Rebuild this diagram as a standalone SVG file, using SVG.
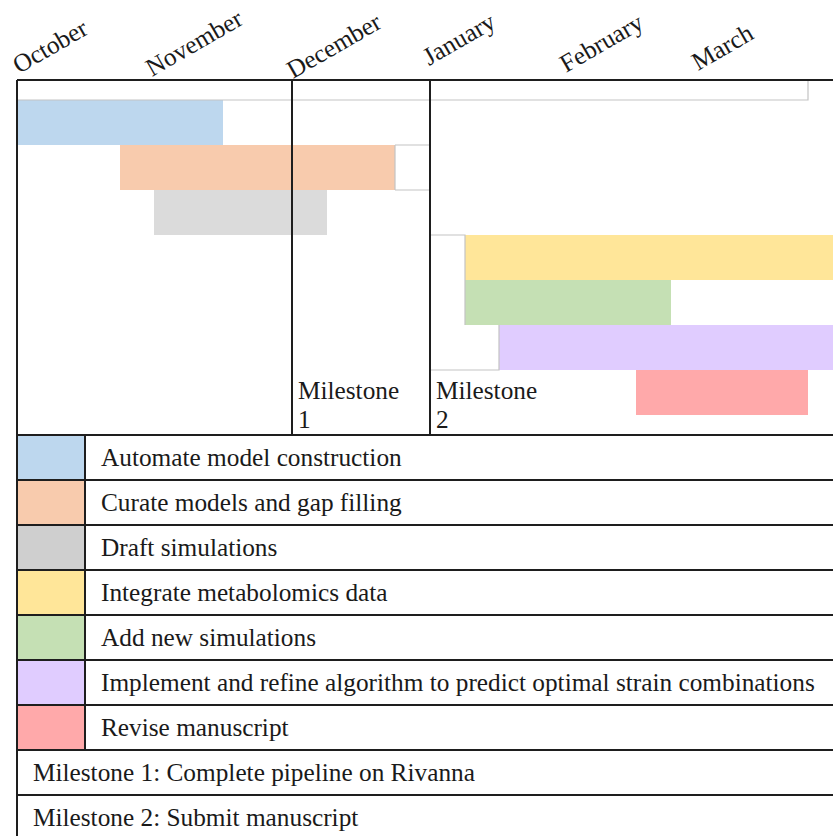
<svg xmlns="http://www.w3.org/2000/svg" width="833" height="836" viewBox="0 0 833 836">
<style>
text{font-family:"Liberation Serif","Times New Roman",serif;font-size:25.3px;fill:#1a1a1a}
.thin{stroke:#c4c4c4;stroke-width:1.2;fill:none}
.grid{stroke:#1e1e1e;stroke-width:2;fill:none}
.blue{fill:#bdd7ee}.orange{fill:#f8cbad}.gray{fill:#dbdbdb}.grayL{fill:#cfcfcf}
.yellow{fill:#ffe699}.green{fill:#c5e0b4}.purple{fill:#e0ccff}.red{fill:#ffa9aa}
</style>
<rect width="833" height="836" fill="#fff"/>
<g id="months">
<text transform="translate(19,74) rotate(-30)">October</text>
<text transform="translate(152,77) rotate(-30)">November</text>
<text transform="translate(293,79) rotate(-30)">December</text>
<text transform="translate(429,66) rotate(-30)">January</text>
<text transform="translate(566,73) rotate(-30)">February</text>
<text transform="translate(698,71) rotate(-30)">March</text>
</g>
<g id="bars">
<rect class="blue" x="17" y="100" width="206" height="45"/>
<rect class="orange" x="120" y="145" width="275" height="45"/>
<rect class="gray" x="154" y="190" width="173" height="45"/>
<rect class="yellow" x="465" y="235" width="368" height="45"/>
<rect class="green" x="465" y="280" width="206" height="45"/>
<rect class="purple" x="499" y="325" width="334" height="45"/>
<rect class="red" x="636" y="370" width="172" height="45"/>
</g>
<g id="thin-lines">
<path class="thin" d="M17 100H808V80"/>
<path class="thin" d="M395 145H430M395 190H430M395 145V190"/>
<path class="thin" d="M430 235H465V325M430 370H499V325"/>
</g>
<g id="milestone-marks">
<text x="298" y="399">Milestone</text>
<text x="298" y="428">1</text>
<text x="436" y="399">Milestone</text>
<text x="436" y="428">2</text>
</g>
<g id="legend-swatches">
<rect class="blue" x="17" y="435" width="68" height="45"/>
<rect class="orange" x="17" y="480" width="68" height="45"/>
<rect class="grayL" x="17" y="525" width="68" height="45"/>
<rect class="yellow" x="17" y="570" width="68" height="45"/>
<rect class="green" x="17" y="615" width="68" height="45"/>
<rect class="purple" x="17" y="660" width="68" height="45"/>
<rect class="red" x="17" y="705" width="68" height="45"/>
</g>
<g id="legend-text">
<text x="101" y="466">Automate model construction</text>
<text x="101" y="511">Curate models and gap filling</text>
<text x="101" y="556">Draft simulations</text>
<text x="101" y="601">Integrate metabolomics data</text>
<text x="101" y="646">Add new simulations</text>
<text x="101" y="691">Implement and refine algorithm to predict optimal strain combinations</text>
<text x="101" y="736">Revise manuscript</text>
<text x="33" y="781">Milestone 1: Complete pipeline on Rivanna</text>
<text x="33" y="826">Milestone 2: Submit manuscript</text>
</g>
<g id="grid">
<path class="grid" d="M17 80H833M17 435H833M17 480H833M17 525H833M17 570H833M17 615H833M17 660H833M17 705H833M17 750H833M17 795H833"/>
<path class="grid" d="M17 80V836M292 80V435M430 80V435M85 435V750"/>
</g>
</svg>
